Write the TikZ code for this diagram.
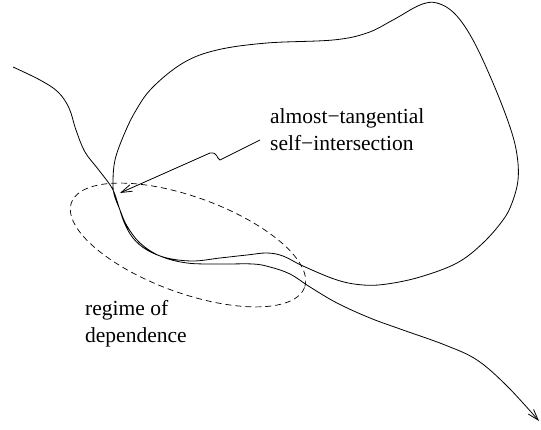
\documentclass[tikz,border=0pt]{standalone}
\usepackage{fontspec}
\setmainfont{Liberation Serif}
\usetikzlibrary{arrows.meta}
\begin{document}
\begin{tikzpicture}[x=1pt,y=-1pt,
  curve/.style={line width=0.8pt},
  tip/.style={-{Straight Barb[length=11pt,width=7pt]}},
  lbl/.style={font=\fontsize{21.5}{28}\selectfont,inner sep=0pt,anchor=base west},
  dashline/.style={line width=0.7pt,dash pattern=on 6pt off 4pt}]
\useasboundingbox (0,0) rectangle (541,430);
% the self-intersecting curve
\draw[curve,tip] plot[smooth,tension=0.6] coordinates {
(13,67) (40,80) (58,92) (69,108) (76,130) (85,152) (98,169)
(112,188) (118,204) (124,222) (133,238) (147,250) (167,258) (193,261)
(220,258) (247,255) (267,253) (283,256) (303,266) (337,280) (363,285)
(387,284) (420,277) (457,263) (483,243) (503,220) (512,203) (518,180)
(517,155) (510,127) (493,83) (473,40) (455,14) (437,3) (420,5) (393,20)
(367,33) (333,40) (267,43) (217,50) (183,63) (152,88) (135,112) (123,137)
(115,160) (113,180) (114,194) (120,210) (127,226) (140,243) (160,256)
(187,263) (220,264) (253,264) (270,267) (290,274) (310,287) (337,303)
(370,318) (403,330) (445,345) (477,360) (507,386) (539,421)};
% dashed region
\draw[dashline] plot[domain=0:360,samples=120,smooth]
  ({188+124*cos(\x)*cos(20)-48*sin(\x)*sin(20)},
   {245+124*cos(\x)*sin(20)+48*sin(\x)*cos(20)}) -- cycle;
% labels
\node[lbl] (lblA) at (270,124) {almost−tangential};
\node[lbl] (lblB) at (270,151) {self−intersection};
\node[lbl] (lblC) at (85,316) {regime of};
\node[lbl] (lblD) at (85,343) {dependence};
\coordinate (start) at (260,140);
\coordinate (cross) at (120,193);
\draw[curve,tip] (start) -- (220,160) .. controls (216,158) and (218,152) .. (210,153) -- (cross);
\end{tikzpicture}
\end{document}
